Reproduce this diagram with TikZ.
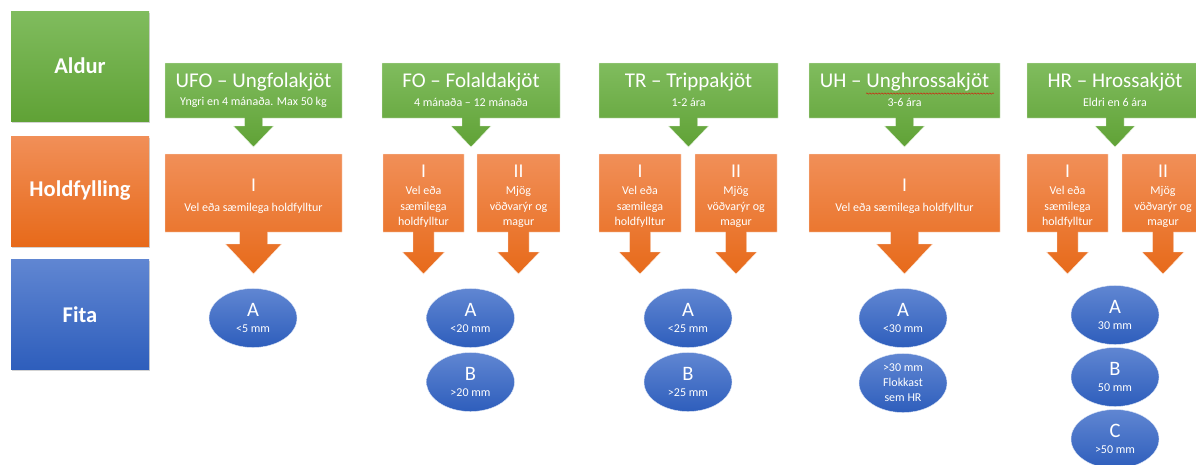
\documentclass[tikz,border=0pt]{standalone}
\usepackage{fontspec}
\setmainfont{Carlito}
\usetikzlibrary{shapes.geometric,shadows,decorations.pathmorphing}
\definecolor{gTop}{RGB}{128,188,94}
\definecolor{gBot}{RGB}{96,162,54}
\definecolor{oTop}{RGB}{241,143,88}
\definecolor{oBot}{RGB}{231,106,26}
\definecolor{bTop}{RGB}{96,134,210}
\definecolor{bBot}{RGB}{46,94,188}
\newcommand{\callout}[9]{%
  \shade[#1] (#2,#4) -- (#3,#4) -- (#3,#5) -- ({(#2+#3)/2+#6},#5) -- ({(#2+#3)/2+#6},#8) -- ({(#2+#3)/2+#7},#8) -- ({(#2+#3)/2},#9) -- ({(#2+#3)/2-#7},#8) -- ({(#2+#3)/2-#6},#8) -- ({(#2+#3)/2-#6},#5) -- (#2,#5) -- cycle;}
\newcommand{\lettr}[1]{{\fontsize{20.5}{22}\selectfont #1}}
\newcommand{\mmtxt}[1]{{\fontsize{12}{13}\selectfont #1}}
\tikzset{
  greenfill/.style={top color=gTop, bottom color=gBot, draw=white!80!gTop, line width=0.4pt},
  orangefill/.style={top color=oTop, bottom color=oBot, draw=white!80!oTop, line width=0.4pt},
  sidebox/.style={minimum width=138pt, minimum height=110pt, inner sep=0pt, text=white,
     font=\fontsize{22.5}{26}\selectfont\bfseries,
     drop shadow={opacity=0.35, shadow xshift=1pt, shadow yshift=-1.5pt}},
  title/.style={text=white, inner sep=0pt, font=\fontsize{21}{24}\selectfont},
  sub/.style={text=white, inner sep=0pt, font=\fontsize{12}{13}\selectfont},
  roman/.style={text=white, inner sep=0pt, font=\fontsize{19.5}{22}\selectfont},
  desc/.style={text=white, inner sep=0pt, align=center, font=\fontsize{12}{15.5}\selectfont},
  fat/.style={ellipse, minimum width=88pt, minimum height=59pt, inner sep=0pt,
     top color=bTop, bottom color=bBot, draw=white!80!bTop, line width=0.4pt,
     text=white, align=center},
}
\begin{document}
\begin{tikzpicture}[x=1pt,y=-1pt]
\clip (0,0) rectangle (1196,464);
\useasboundingbox (0,0) rectangle (1196,464);
% left category boxes
\node[sidebox, top color=gTop, bottom color=gBot] (aldur) at (80,66) {Aldur};
\node[sidebox, top color=oTop, bottom color=oBot] (hold) at (80,191) {Holdfylling};
\node[sidebox, top color=bTop, bottom color=bBot] (fita) at (80,314.5) {Fita};

% ---------- green age callouts
\callout{greenfill}{165}{342}{63}{118}{9}{20}{126}{147}
\callout{greenfill}{382}{560}{63}{118}{9}{20}{126}{147}
\callout{greenfill}{599}{778}{63}{118}{9}{20}{126}{147}
\callout{greenfill}{809}{1000}{63}{118}{9}{20}{126}{147}
\callout{greenfill}{1027}{1203}{63}{118}{9}{20}{126}{147}

\node[title] (t1) at (253.5,82) {UFO – Ungfolakjöt};
\node[sub] (s1) at (253.5,102.5) {Yngri en 4 mánaða. Max 50 kg};
\node[title] (t2) at (471,82) {FO – Folaldakjöt};
\node[sub] (s2) at (471,102.5) {4 mánaða – 12 mánaða};
\node[title] (t3) at (688.5,82) {TR – Trippakjöt};
\node[sub] (s3) at (688.5,102.5) {1-2 ára};
\node[title] (t4) at (904.5,82) {UH – Unghrossakjöt};
\node[sub] (s4) at (904.5,102.5) {3-6 ára};
\node[title] (t5) at (1115,82) {HR – Hrossakjöt};
\node[sub] (s5) at (1115,102.5) {Eldri en 6 ára};
\draw[red!90!black, line width=0.35pt, decorate, decoration={snake, amplitude=0.7pt, segment length=3pt}] (866,93.5) -- (994,93.5);

% ---------- orange condition callouts
\callout{orangefill}{165}{342}{154}{232}{14}{28}{244}{274}
\callout{orangefill}{383}{464}{154}{232}{10.5}{21}{252}{274}
\callout{orangefill}{477}{560}{154}{232}{10.5}{21}{252}{274}
\callout{orangefill}{599}{681}{154}{232}{10.5}{21}{252}{274}
\callout{orangefill}{695}{777}{154}{232}{10.5}{21}{252}{274}
\callout{orangefill}{809}{1000}{154}{232}{14}{28}{244}{274}
\callout{orangefill}{1027}{1108}{154}{232}{10.5}{21}{252}{274}
\callout{orangefill}{1122}{1204}{154}{232}{10.5}{21}{252}{274}

\node[roman] (r1) at (253.5,185) {I};
\node[desc] (d1) at (253.5,208) {Vel eða sæmilega holdfylltur};
\node[roman] (r2a) at (423.5,171) {I};
\node[desc] (d2a) at (423.5,207) {Vel eða\\sæmilega\\holdfylltur};
\node[roman] (r2b) at (518.5,171) {II};
\node[desc] (d2b) at (518.5,207) {Mjög\\vöðvarýr og\\magur};
\node[roman] (r3a) at (640,171) {I};
\node[desc] (d3a) at (640,207) {Vel eða\\sæmilega\\holdfylltur};
\node[roman] (r3b) at (736,171) {II};
\node[desc] (d3b) at (736,207) {Mjög\\vöðvarýr og\\magur};
\node[roman] (r4) at (904.5,185) {I};
\node[desc] (d4) at (904.5,208) {Vel eða sæmilega holdfylltur};
\node[roman] (r5a) at (1067.5,171) {I};
\node[desc] (d5a) at (1067.5,207) {Vel eða\\sæmilega\\holdfylltur};
\node[roman] (r5b) at (1163,171) {II};
\node[desc] (d5b) at (1163,207) {Mjög\\vöðvarýr og\\magur};

% ---------- blue fat ellipses
\node[fat] (e1a) at (253,318) {\lettr{A}\\[4pt]\mmtxt{<5 mm}};
\node[fat] (e2a) at (470.5,318) {\lettr{A}\\[4pt]\mmtxt{<20 mm}};
\node[fat] (e2b) at (470.5,382) {\lettr{B}\\[4pt]\mmtxt{>20 mm}};
\node[fat] (e3a) at (688,318) {\lettr{A}\\[4pt]\mmtxt{<25 mm}};
\node[fat] (e3b) at (688,382) {\lettr{B}\\[4pt]\mmtxt{>25 mm}};
\node[fat] (e4a) at (903,318) {\lettr{A}\\[4pt]\mmtxt{<30 mm}};
\node[fat, font=\fontsize{12}{15}\selectfont] (e4b) at (903,383) {>30 mm\\Flokkast\\sem HR};
\node[fat] (e5a) at (1115,315) {\lettr{A}\\[4pt]\mmtxt{30 mm}};
\node[fat] (e5b) at (1115,377) {\lettr{B}\\[4pt]\mmtxt{50 mm}};
\node[fat] (e5c) at (1115,439) {\lettr{C}\\[4pt]\mmtxt{>50 mm}};
\end{tikzpicture}
\end{document}
